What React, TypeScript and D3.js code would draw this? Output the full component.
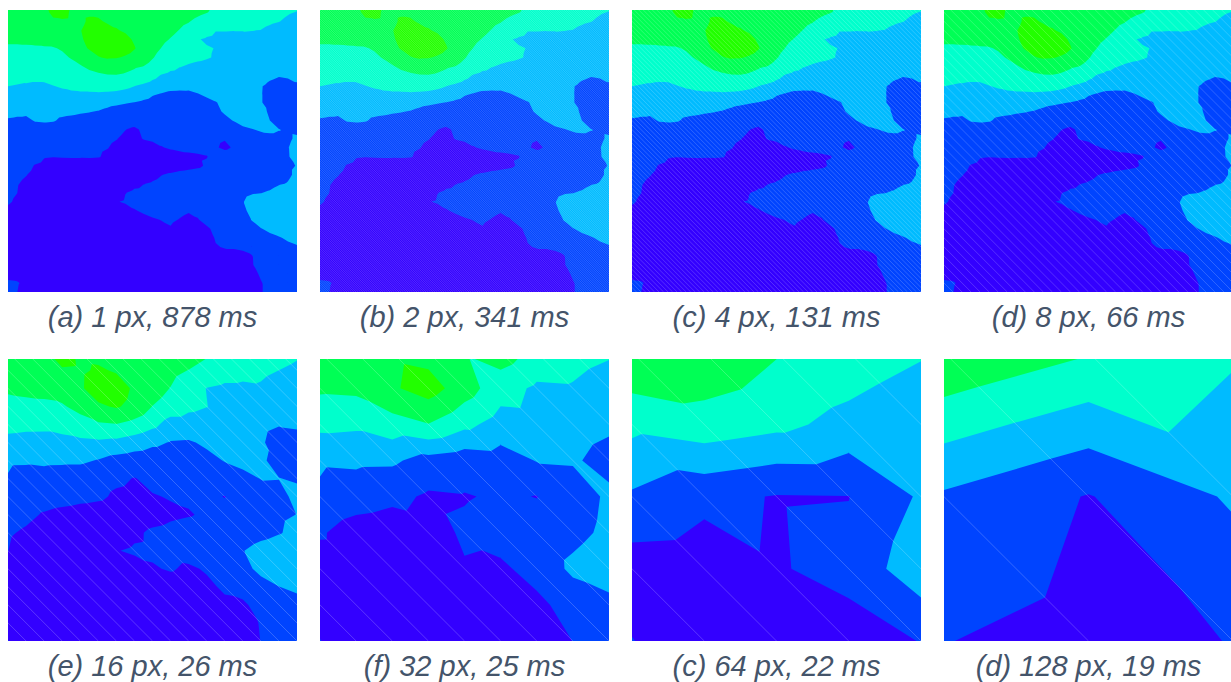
import * as d3 from 'd3';
import React from 'react';

// contour bands, lowest first
const bandColors = ['#3300ff', '#0044ff', '#00bbff', '#00ffcc', '#00ff55', '#22ff00'];
const bandThresholds = [1, 2, 3, 4, 5];

const panelLetters = ['a', 'b', 'c', 'd', 'e', 'f', 'c', 'd'];
const cellSizes = [1, 2, 4, 8, 16, 32, 64, 128];
const timings = [878, 341, 131, 66, 26, 25, 22, 19];
const hatchOpacity = [0, 0.3, 0.3, 0.3, 0.35, 0.35, 0.35, 0.35];

// height samples, one every 16 source px
const heightField = [
    [4.96, 4.9, 4.85, 5.5, 4.78, 4.7, 4.6, 4.4, 4.08, 4.7, 4.58, 4.2, 3.68, 3.55, 3.4, 3.3, 3.13],
    [4.6, 4.6, 4.6, 4.9, 4.85, 5.12, 4.9, 4.7, 4.6, 4.3, 3.98, 3.6, 3.35, 3.25, 3.15, 3.0, 2.85],
    [4.15, 4.2, 4.22, 4.5, 4.87, 5.5, 5.45, 4.85, 4.47, 3.97, 3.39, 2.98, 2.85, 2.85, 2.91, 2.7, 2.52],
    [3.7, 3.8, 3.85, 3.9, 4.3, 4.85, 5.1, 4.7, 3.98, 3.55, 3.2, 3.02, 2.7, 2.65, 2.6, 2.45, 2.35],
    [3.27, 3.2, 3.19, 3.35, 3.61, 3.88, 3.97, 3.7, 3.26, 2.6, 2.6, 2.55, 2.67, 2.4, 2.25, 2.05, 2.1],
    [2.75, 2.7, 2.7, 2.7, 2.8, 2.85, 2.75, 2.5, 2.2, 1.95, 1.9, 2.15, 2.45, 2.35, 2.12, 1.6, 1.75],
    [2.11, 2.1, 2.16, 2.15, 2.15, 1.95, 1.64, 1.5, 1.4, 1.4, 1.55, 1.75, 2.04, 2.2, 2.07, 1.85, 1.8],
    [1.95, 1.7, 1.65, 1.55, 1.45, 1.3, 1.15, 0.97, 1.2, 1.3, 1.35, 1.45, 1.55, 1.8, 2.02, 2.01, 1.95],
    [1.86, 1.6, 1.52, 1.4, 1.26, 1.15, 0.87, 0.8, 0.95, 1.05, 1.1, 1.12, 0.98, 1.3, 1.6, 1.85, 2.13],
    [1.5, 1.25, 0.9, 0.7, 0.6, 0.55, 0.5, 0.5, 0.65, 0.85, 0.95, 1.1, 1.25, 1.45, 1.7, 1.9, 2.01],
    [1.12, 0.85, 0.5, 0.4, 0.35, 0.35, 0.6, 0.85, 1.14, 1.25, 1.35, 1.35, 1.35, 1.5, 1.74, 1.95, 2.2],
    [1.01, 0.55, 0.45, 0.4, 0.38, 0.4, 0.97, 1.1, 1.15, 1.3, 1.4, 1.4, 1.5, 1.97, 2.3, 2.45, 2.5],
    [0.51, 0.5, 0.47, 0.45, 0.43, 0.45, 0.5, 0.72, 0.92, 1.08, 0.85, 1.1, 1.31, 1.75, 2.21, 2.5, 2.64],
    [0.5, 0.4, 0.35, 0.3, 0.3, 0.3, 0.32, 0.4, 0.5, 0.6, 0.55, 0.8, 1.15, 1.35, 1.7, 1.99, 2.2],
    [0.5, 0.42, 0.35, 0.32, 0.3, 0.32, 0.35, 0.4, 0.45, 0.5, 0.6, 0.65, 0.8, 0.85, 1.34, 1.55, 1.66],
    [0.55, 0.42, 0.33, 0.3, 0.28, 0.3, 0.32, 0.35, 0.4, 0.45, 0.5, 0.55, 0.62, 0.75, 1.04, 1.25, 1.35],
    [1.03, 0.4, 0.35, 0.3, 0.3, 0.35, 0.4, 0.5, 0.63, 0.6, 0.65, 0.6, 0.55, 0.75, 1.01, 1.1, 1.03],
];

// height samples, one every 8 source px
const fineField = [
    [4.9, 4.85, 4.8, 4.8, 4.9, 5.3, 5.4, 4.95, 4.85, 4.85, 4.8, 4.8, 4.7, 4.7, 4.6, 4.6, 4.55, 4.5, 4.5, 4.45, 4.4, 4.3, 4.15, 3.98, 3.8, 3.7, 3.6, 3.55, 3.45, 3.4, 3.3, 3.2, 3.13],
    [4.7, 4.7, 4.7, 4.7, 4.75, 5.2, 5.3, 4.9, 4.85, 4.9, 4.85, 4.8, 4.75, 4.7, 4.65, 4.6, 4.55, 4.5, 4.45, 4.4, 4.3, 4.15, 4.03, 3.85, 3.7, 3.6, 3.5, 3.4, 3.35, 3.25, 3.15, 3.05, 2.98],
    [4.5, 4.55, 4.55, 4.6, 4.7, 4.85, 4.9, 4.85, 4.85, 5.1, 5.1, 4.9, 4.85, 4.75, 4.7, 4.6, 4.55, 4.45, 4.3, 4.15, 4.04, 3.85, 3.7, 3.55, 3.45, 3.4, 3.35, 3.25, 3.2, 3.1, 3.02, 2.9, 2.8],
    [4.35, 4.35, 4.4, 4.4, 4.5, 4.6, 4.75, 4.85, 4.97, 5.2, 5.3, 5.25, 5.05, 4.9, 4.75, 4.6, 4.45, 4.3, 4.15, 3.98, 3.8, 3.6, 3.3, 3.03, 3.03, 3.02, 3.02, 3.01, 2.99, 2.85, 2.75, 2.65, 2.6],
    [4.12, 4.12, 4.12, 4.15, 4.2, 4.3, 4.45, 4.65, 4.9, 5.2, 5.5, 5.5, 5.4, 5.2, 4.9, 4.65, 4.4, 4.15, 3.97, 3.8, 3.5, 3.05, 2.9, 2.8, 2.8, 2.8, 2.85, 2.9, 2.9, 2.75, 2.65, 2.55, 2.5],
    [3.9, 3.9, 3.92, 3.93, 3.94, 3.95, 4.07, 4.4, 4.75, 5.07, 5.4, 5.55, 5.6, 5.4, 5.05, 4.65, 4.25, 3.98, 3.75, 3.5, 3.3, 3.15, 3.06, 2.98, 2.75, 2.7, 2.7, 2.72, 2.75, 2.65, 2.55, 2.45, 2.4],
    [3.6, 3.62, 3.65, 3.68, 3.7, 3.75, 3.85, 4.05, 4.3, 4.6, 4.95, 5.1, 5.06, 4.9, 4.65, 4.35, 4.05, 3.75, 3.5, 3.3, 3.2, 3.12, 3.05, 2.95, 2.7, 2.65, 2.65, 2.65, 2.6, 2.5, 2.42, 2.33, 2.28],
    [3.35, 3.38, 3.4, 3.42, 3.45, 3.5, 3.6, 3.75, 3.93, 4.15, 4.3, 4.4, 4.35, 4.25, 4.1, 3.99, 3.75, 3.45, 3.2, 3.03, 2.93, 2.85, 2.82, 2.7, 2.6, 2.55, 2.55, 2.5, 2.45, 2.35, 2.28, 2.2, 2.15],
    [3.15, 3.15, 3.18, 3.2, 3.22, 3.28, 3.35, 3.5, 3.65, 3.78, 3.88, 3.95, 3.97, 3.9, 3.75, 3.5, 3.2, 2.95, 2.8, 2.75, 2.72, 2.65, 2.62, 2.55, 2.5, 2.45, 2.42, 2.38, 2.3, 2.15, 2.04, 2.08, 2.1],
    [3.05, 3.0, 2.97, 2.93, 2.93, 3.03, 3.12, 3.2, 3.3, 3.35, 3.4, 3.45, 3.4, 3.3, 3.1, 2.95, 2.8, 2.65, 2.55, 2.48, 2.4, 2.42, 2.4, 2.4, 2.35, 2.35, 2.3, 2.28, 2.1, 1.9, 1.8, 1.85, 1.97],
    [2.8, 2.75, 2.75, 2.72, 2.7, 2.75, 2.85, 2.9, 2.92, 2.92, 2.93, 2.9, 2.85, 2.75, 2.6, 2.4, 2.12, 1.98, 1.8, 1.75, 1.8, 1.99, 2.15, 2.25, 2.35, 2.35, 2.3, 2.25, 2.07, 1.6, 1.5, 1.6, 1.7],
    [2.55, 2.5, 2.5, 2.5, 2.5, 2.5, 2.45, 2.42, 2.4, 2.35, 2.3, 2.22, 2.15, 2.07, 1.98, 1.85, 1.7, 1.55, 1.45, 1.4, 1.45, 1.6, 1.82, 1.97, 2.15, 2.3, 2.35, 2.3, 2.07, 1.65, 1.45, 1.5, 1.6],
    [2.28, 2.2, 2.15, 2.17, 2.2, 2.2, 2.15, 2.12, 2.07, 2.03, 1.97, 1.85, 1.7, 1.6, 1.5, 1.4, 1.35, 1.3, 1.28, 1.3, 1.35, 1.45, 1.65, 1.88, 2.07, 2.25, 2.35, 2.3, 2.1, 1.95, 1.6, 1.55, 1.55],
    [1.9, 1.85, 1.85, 2.05, 2.1, 2.05, 1.9, 1.85, 1.8, 1.75, 1.65, 1.55, 1.4, 1.3, 1.25, 1.2, 1.2, 1.2, 1.2, 1.2, 1.25, 1.3, 1.4, 1.6, 1.85, 2.03, 2.25, 2.3, 2.2, 2.0, 1.7, 1.7, 1.7],
    [1.75, 1.75, 1.7, 1.7, 1.65, 1.65, 1.6, 1.6, 1.55, 1.5, 1.4, 1.3, 1.2, 1.01, 0.9, 1.1, 1.15, 1.15, 1.15, 1.15, 1.2, 1.25, 1.3, 1.35, 1.5, 1.7, 1.85, 1.97, 2.08, 2.1, 2.02, 1.9, 1.85],
    [1.7, 1.68, 1.65, 1.62, 1.6, 1.55, 1.5, 1.45, 1.4, 1.35, 1.25, 1.15, 1.03, 0.85, 0.85, 1.03, 1.08, 1.1, 1.12, 1.15, 1.18, 1.2, 1.2, 1.1, 1.03, 1.15, 1.4, 1.6, 1.75, 1.85, 1.85, 1.9, 2.1],
    [1.65, 1.6, 1.55, 1.5, 1.45, 1.4, 1.35, 1.3, 1.25, 1.2, 1.12, 1.03, 0.85, 0.7, 0.65, 0.75, 0.85, 0.98, 1.05, 1.1, 1.12, 1.15, 1.15, 1.05, 0.9, 1.05, 1.3, 1.55, 1.7, 1.8, 1.9, 1.98, 2.2],
    [1.6, 1.55, 1.5, 1.35, 1.05, 1.02, 1.05, 1.07, 1.07, 1.08, 1.05, 0.85, 0.7, 0.55, 0.55, 0.55, 0.6, 0.7, 0.8, 0.85, 0.9, 0.93, 0.98, 1.15, 1.28, 1.3, 1.35, 1.5, 1.65, 1.75, 1.85, 1.97, 2.15],
    [1.5, 1.4, 1.25, 0.95, 0.8, 0.7, 0.65, 0.6, 0.6, 0.55, 0.55, 0.5, 0.5, 0.45, 0.45, 0.45, 0.5, 0.55, 0.6, 0.7, 0.8, 0.88, 1.08, 1.25, 1.35, 1.4, 1.4, 1.5, 1.6, 1.7, 1.8, 1.92, 2.02],
    [1.35, 1.2, 1.03, 0.8, 0.6, 0.55, 0.5, 0.5, 0.48, 0.45, 0.42, 0.42, 0.42, 0.42, 0.45, 0.55, 0.8, 0.98, 1.1, 1.2, 1.25, 1.3, 1.35, 1.4, 1.4, 1.45, 1.5, 1.55, 1.6, 1.7, 1.8, 1.92, 2.1],
    [1.25, 1.05, 0.85, 0.7, 0.55, 0.5, 0.45, 0.42, 0.4, 0.4, 0.38, 0.38, 0.4, 0.55, 0.8, 0.98, 1.08, 1.2, 1.3, 1.35, 1.35, 1.35, 1.4, 1.4, 1.45, 1.45, 1.5, 1.6, 1.7, 1.8, 1.95, 2.03, 2.2],
    [1.15, 1.01, 0.7, 0.6, 0.5, 0.45, 0.42, 0.4, 0.38, 0.36, 0.36, 0.38, 0.5, 0.98, 1.15, 1.2, 1.2, 1.3, 1.35, 1.4, 1.4, 1.4, 1.45, 1.5, 1.55, 1.7, 1.85, 1.95, 1.98, 2.08, 2.25, 2.4, 2.45],
    [1.08, 0.9, 0.65, 0.55, 0.45, 0.42, 0.38, 0.38, 0.36, 0.35, 0.35, 0.4, 0.95, 1.1, 1.2, 1.25, 1.3, 1.4, 1.45, 1.45, 1.45, 1.5, 1.55, 1.6, 1.7, 1.85, 1.97, 2.2, 2.3, 2.4, 2.45, 2.5, 2.5],
    [0.85, 0.7, 0.55, 0.45, 0.4, 0.36, 0.35, 0.35, 0.35, 0.35, 0.35, 0.35, 0.45, 0.65, 0.95, 1.1, 1.2, 1.3, 1.3, 1.15, 1.05, 1.1, 1.3, 1.4, 1.5, 1.65, 1.85, 2.2, 2.4, 2.5, 2.55, 2.6, 2.6],
    [0.6, 0.55, 0.45, 0.4, 0.35, 0.33, 0.32, 0.32, 0.32, 0.32, 0.32, 0.32, 0.35, 0.4, 0.6, 0.8, 0.93, 1.02, 1.1, 0.97, 0.85, 0.97, 1.15, 1.3, 1.4, 1.6, 1.8, 2.02, 2.3, 2.45, 2.55, 2.6, 2.6],
    [0.55, 0.5, 0.4, 0.35, 0.33, 0.3, 0.3, 0.3, 0.3, 0.3, 0.3, 0.3, 0.33, 0.38, 0.5, 0.6, 0.7, 0.85, 0.95, 0.75, 0.7, 0.8, 0.92, 1.12, 1.25, 1.4, 1.6, 1.8, 1.97, 2.15, 2.3, 2.4, 2.45],
    [0.5, 0.45, 0.38, 0.33, 0.3, 0.28, 0.28, 0.28, 0.28, 0.28, 0.28, 0.28, 0.3, 0.35, 0.4, 0.5, 0.6, 0.65, 0.7, 0.65, 0.65, 0.7, 0.8, 1.04, 1.15, 1.25, 1.4, 1.55, 1.7, 1.82, 1.95, 2.1, 2.2],
    [0.5, 0.42, 0.36, 0.32, 0.28, 0.26, 0.26, 0.26, 0.26, 0.26, 0.26, 0.28, 0.3, 0.32, 0.38, 0.42, 0.5, 0.55, 0.6, 0.62, 0.65, 0.72, 0.85, 0.97, 1.03, 1.03, 1.05, 1.2, 1.5, 1.65, 1.75, 1.85, 1.95],
    [0.48, 0.42, 0.36, 0.3, 0.28, 0.25, 0.25, 0.25, 0.25, 0.25, 0.25, 0.26, 0.28, 0.3, 0.35, 0.4, 0.45, 0.5, 0.55, 0.6, 0.6, 0.65, 0.7, 0.78, 0.85, 0.9, 0.93, 0.98, 1.25, 1.4, 1.5, 1.6, 1.7],
    [0.5, 0.42, 0.36, 0.3, 0.26, 0.25, 0.25, 0.25, 0.25, 0.25, 0.25, 0.26, 0.28, 0.3, 0.33, 0.38, 0.42, 0.46, 0.5, 0.55, 0.58, 0.6, 0.65, 0.7, 0.75, 0.8, 0.87, 0.97, 1.15, 1.3, 1.4, 1.45, 1.5],
    [0.7, 0.6, 0.42, 0.33, 0.28, 0.25, 0.25, 0.25, 0.25, 0.25, 0.25, 0.26, 0.28, 0.3, 0.33, 0.36, 0.4, 0.43, 0.47, 0.5, 0.53, 0.56, 0.6, 0.65, 0.7, 0.75, 0.82, 0.9, 1.04, 1.2, 1.3, 1.35, 1.35],
    [1.15, 1.1, 0.75, 0.4, 0.3, 0.28, 0.28, 0.28, 0.28, 0.28, 0.28, 0.3, 0.3, 0.32, 0.35, 0.38, 0.42, 0.45, 0.48, 0.5, 0.53, 0.56, 0.6, 0.65, 0.7, 0.75, 0.82, 0.92, 0.98, 1.1, 1.2, 1.25, 1.25],
    [1.2, 1.02, 0.55, 0.4, 0.32, 0.3, 0.3, 0.3, 0.3, 0.3, 0.3, 0.3, 0.32, 0.35, 0.38, 0.4, 0.45, 0.48, 0.5, 0.52, 0.55, 0.58, 0.62, 0.65, 0.7, 0.75, 0.82, 0.92, 0.98, 1.08, 1.15, 1.2, 1.2],
];

const FIELD_STEP = 16;
const FINE_STEP = 8;
const FIELD_SIZE = 256;
const CROP_TOP = 6;
const PANEL_W = 289;
const PANEL_H = 282;
const panelLefts = [8, 320, 632, 944];
const panelTops = [10, 359];

type Corner = { x: number; y: number; v: number };

/**
 * Part of a triangle at or above a level, as a polygon.
 */
function clipTriangle(tri: Corner[], level: number) {
    const out: Corner[] = [];

    tri.forEach((a, i) => {
        const b = tri[(i + 1) % 3];

        if (a.v >= level) {
            out.push(a);
        }
        if ((a.v >= level) !== (b.v >= level)) {
            const t = (level - a.v) / (b.v - a.v);

            out.push({ x: a.x + (t * (b.x - a.x)), y: a.y + (t * (b.y - a.y)), v: level });
        }
    });

    return out;
}

/**
 * Path of the region above a level, marching over the triangles of the grid.
 */
function bandPath(field: number[][], step: number, stride: number, level: number, x: any, y: any) {
    const path = d3.path();
    const last = field.length - 1;
    const corner = (i: number, j: number) => {
        return { x: x(i * step), y: y(j * step), v: field[j][i] };
    };

    for (let j = 0; j < last; j += stride) {
        for (let i = 0; i < last; i += stride) {
            const tl = corner(i, j);
            const tr = corner(i + stride, j);
            const bl = corner(i, j + stride);
            const br = corner(i + stride, j + stride);

            [ [ tl, tr, br ], [ tl, br, bl ] ].forEach(tri => {
                const poly = clipTriangle(tri, level);

                if (poly.length) {
                    poly.forEach((p, k) => (k ? path.lineTo(p.x, p.y) : path.moveTo(p.x, p.y)));
                    path.closePath();
                }
            });
        }
    }

    return path.toString();
}

const Panel = ({ index }: { index: number }) => {
    const left = panelLefts[index % 4];
    const top = panelTops[Math.floor(index / 4)];
    const cell = cellSizes[index];
    const x = d3.scaleLinear().domain([ 0, FIELD_SIZE ]).range([ left, left + PANEL_W ]);
    const y = d3.scaleLinear().domain([ CROP_TOP, FIELD_SIZE ]).range([ top, top + PANEL_H ]);
    const fine = cell <= FINE_STEP;
    const field = fine ? fineField : heightField;
    const step = fine ? FINE_STEP : FIELD_STEP;
    const stride = Math.max(cell / step, 1);
    const hatch = d3.range(-FIELD_SIZE, FIELD_SIZE, cell);
    const clipId = `panel-${index}`;

    return (
        <g>
            <clipPath id = { clipId }>
                <rect height = { PANEL_H } width = { PANEL_W } x = { left } y = { top } />
            </clipPath>
            <g clipPath = { `url(#${clipId})` }>
                <rect fill = { bandColors[0] } height = { PANEL_H } width = { PANEL_W } x = { left } y = { top } />
                {bandThresholds.map((level, i) => (
                    <path d = { bandPath(field, step, stride, level, x, y) } fill = { bandColors[i + 1] } key = { level } />
                ))}
                {hatchOpacity[index] > 0 && hatch.map(start => (
                    <line
                        key = { start }
                        stroke = '#fff'
                        strokeOpacity = { hatchOpacity[index] }
                        strokeWidth = { 0.6 }
                        x1 = { x(start) }
                        x2 = { x(start + FIELD_SIZE) }
                        y1 = { y(0) }
                        y2 = { y(FIELD_SIZE) } />
                ))}
            </g>
            <text
                fill = '#44546a'
                fontFamily = 'Liberation Sans, Arial, sans-serif'
                fontSize = { 29 }
                fontStyle = 'italic'
                textAnchor = 'middle'
                x = { left + (PANEL_W / 2) }
                y = { top + PANEL_H + 35 }>
                {`(${panelLetters[index]}) ${cell} px, ${timings[index]} ms`}
            </text>
        </g>
    );
};

export default function App() {
    return (
        <svg
            height = { 682 }
            style = {{ background: '#fff', left: 0, position: 'absolute', top: 0 }}
            width = { 1231 }>
            {cellSizes.map((cell, i) => <Panel index = { i } key = { i } />)}
        </svg>
    );
}
